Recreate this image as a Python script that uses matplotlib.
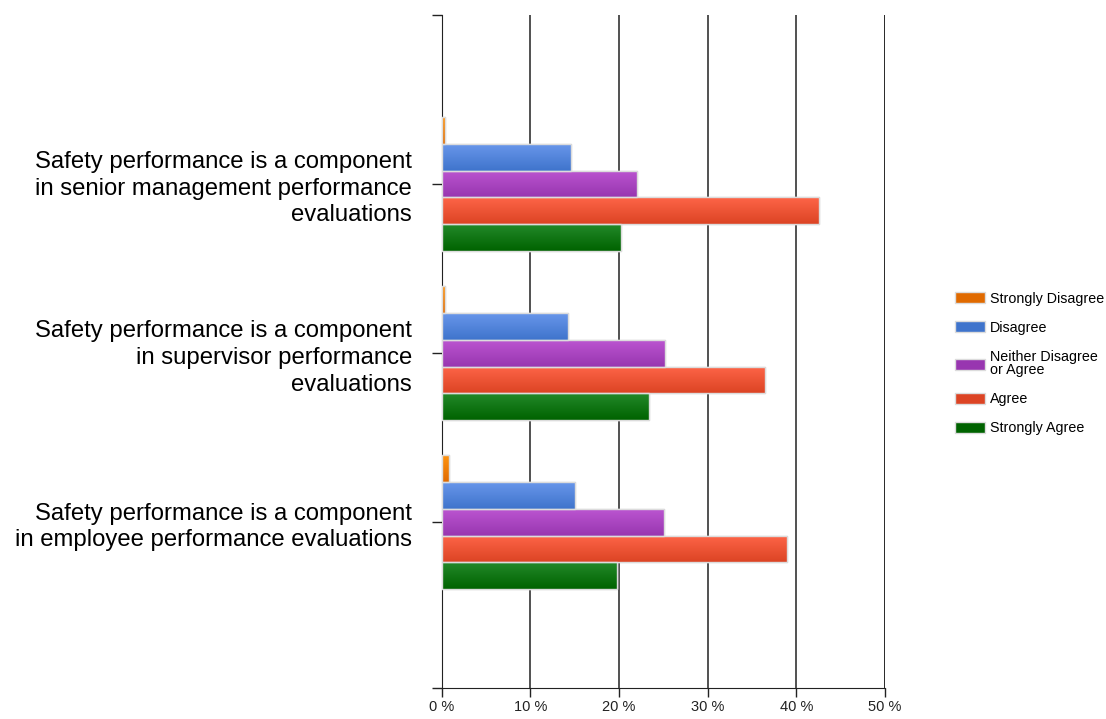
import numpy as np
import matplotlib
matplotlib.use("Agg")
import matplotlib.pyplot as plt
from matplotlib.colors import to_rgb
from matplotlib.patches import Patch

plt.rcParams['font.family'] = ['Liberation Sans', 'DejaVu Sans']

statements = [
    "Safety performance is a component\nin senior management performance\nevaluations",
    "Safety performance is a component\nin supervisor performance\nevaluations",
    "Safety performance is a component\nin employee performance evaluations",
]
responses = ["Strongly Disagree", "Disagree", "Neither Disagree\nor Agree", "Agree", "Strongly Agree"]

strongly_disagree = [0.4, 0.4, 0.8]
disagree = [14.6, 14.3, 15.1]
neither = [22.0, 25.2, 25.1]
agree = [42.6, 36.5, 39.0]
strongly_agree = [20.2, 23.4, 19.8]

series = [strongly_disagree, disagree, neither, agree, strongly_agree]
xticks = [0, 10, 20, 30, 40, 50]
xtick_labels = ["0 %", "10 %", "20 %", "30 %", "40 %", "50 %"]

# (top colour, bottom colour) for the vertical shading of each series
shades = [
    ("#ff9410", "#e06a00"),
    ("#6896ea", "#3f74cc"),
    ("#bb55d0", "#9836b0"),
    ("#fe6548", "#dc4424"),
    ("#23892a", "#006300"),
]

fig = plt.figure(figsize=(11.06, 7.19), dpi=100)
ax = fig.add_axes([441.5 / 1106, 31 / 719, (885 - 441.5) / 1106, (688 - 15) / 719])

y = np.arange(len(statements))
bar_h = 0.158
offsets = (np.arange(len(series)) - 2) * bar_h

for k, vals in enumerate(series):
    top_c, bot_c = shades[k]
    bars = ax.barh(y + offsets[k], vals, height=bar_h, color=bot_c,
                   edgecolor="#dcdcdc", linewidth=1.0, zorder=3)
    grad = np.linspace(0, 1, 64)[:, None, None]
    img = (1 - grad) * np.array(to_rgb(top_c)) + grad * np.array(to_rgb(bot_c))
    for b in bars:
        x0, y0 = b.get_x(), b.get_y()
        w, h = b.get_width(), b.get_height()
        im = ax.imshow(img, extent=(x0, x0 + w, y0 + h, y0), origin="upper",
                       aspect="auto", zorder=3.5, interpolation="bilinear")
        im.set_clip_path(b)
    # redraw border above the shading
    ax.barh(y + offsets[k], vals, height=bar_h, fill=False,
            edgecolor="#dcdcdc", linewidth=1.0, zorder=4)

ax.set_xlim(0, 50)
ax.set_ylim(2.98, -1.0)

ax.set_xticks(xticks)
ax.set_xticklabels(xtick_labels, fontsize=10.5, color="#222222")
ax.set_yticks([-1, 0, 1, 2, 2.98])
ax.set_yticklabels([""] + statements + [""], fontsize=17.2, linespacing=1.27)
ax.tick_params(axis="y", length=7.2, width=1, pad=14, color="#222222")
ax.tick_params(axis="x", length=6.5, width=1, pad=2, color="#222222")

ax.grid(axis="x", color="#222222", linewidth=1.1, zorder=1)
ax.set_axisbelow(True)
for s in ["top", "right"]:
    ax.spines[s].set_visible(False)
ax.spines["left"].set_color("#222222")
ax.spines["bottom"].set_color("#222222")
ax.axvline(50, color="#222222", linewidth=1.1, zorder=1)

handles = [Patch(facecolor=shades[k][1], edgecolor="#dcdcdc", label=responses[k])
           for k in range(len(series))]
leg = fig.legend(handles=handles, loc="upper left", bbox_to_anchor=(942 / 1106, 1 - 279 / 719),
                 frameon=False, fontsize=10.3, handlelength=2.1, handleheight=0.8,
                 handletextpad=0.35, labelspacing=1.05)
for t in leg.get_texts():
    t.set_linespacing(0.95)

fig.savefig("out.png", dpi=100)
